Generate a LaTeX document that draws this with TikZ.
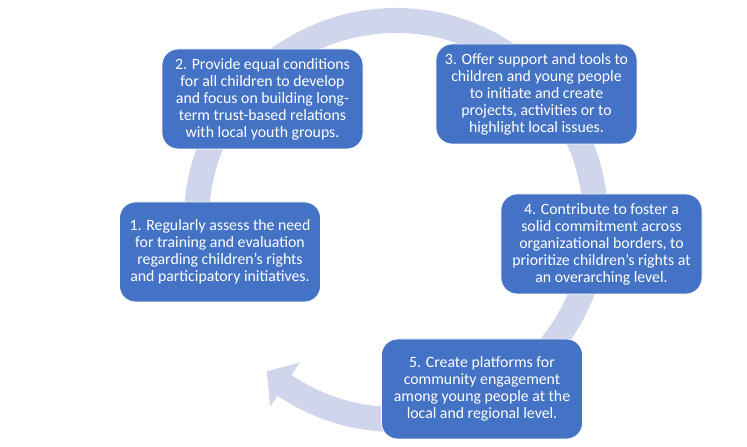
\documentclass[tikz,border=0pt]{standalone}
\usepackage{fontspec}
\setmainfont{Carlito}
\definecolor{boxB}{RGB}{68,114,196}
\definecolor{ringL}{RGB}{207,213,234}

\begin{document}
\begin{tikzpicture}[x=1pt,y=1pt,
  stepbox/.style={fill=boxB,draw=white,line width=0.8pt,rounded corners=16pt,
    minimum width=201pt,minimum height=100pt,inner sep=0pt,align=center,
    text=white,font=\fontsize{15.8}{17}\selectfont}]
\useasboundingbox (0,0) rectangle (747,447);
% cycle ring with its head at the lower left
\begin{scope}[shift={(396,227)}]
\fill[ringL] (200:212) arc[start angle=200,end angle=-124,radius=212]
  -- (-124:225) -- (-130.5:199) -- (-124:172) -- (-124:187)
  arc[start angle=-124,end angle=200,radius=187] -- cycle;
\end{scope}
\node[stepbox] (s1) at (220,195) {1. Regularly assess the need\\for training and evaluation\\regarding children’s rights\\and participatory initiatives.};
\node[stepbox] (s2) at (262.5,348) {2. Provide equal conditions\\for all children to develop\\and focus on building long-\\term trust-based relations\\with local youth groups.};
\node[stepbox] (s3) at (536.5,353) {3. Offer support and tools to\\children and young people\\to initiate and create\\projects, activities or to\\highlight local issues.};
\node[stepbox] (s4) at (601.5,203) {4. Contribute to foster a\\solid commitment across\\organizational borders, to\\prioritize children’s rights at\\an overarching level.};
\node[stepbox] (s5) at (482,58) {5. Create platforms for\\community engagement\\among young people at the\\local and regional level.};
\end{tikzpicture}
\end{document}
